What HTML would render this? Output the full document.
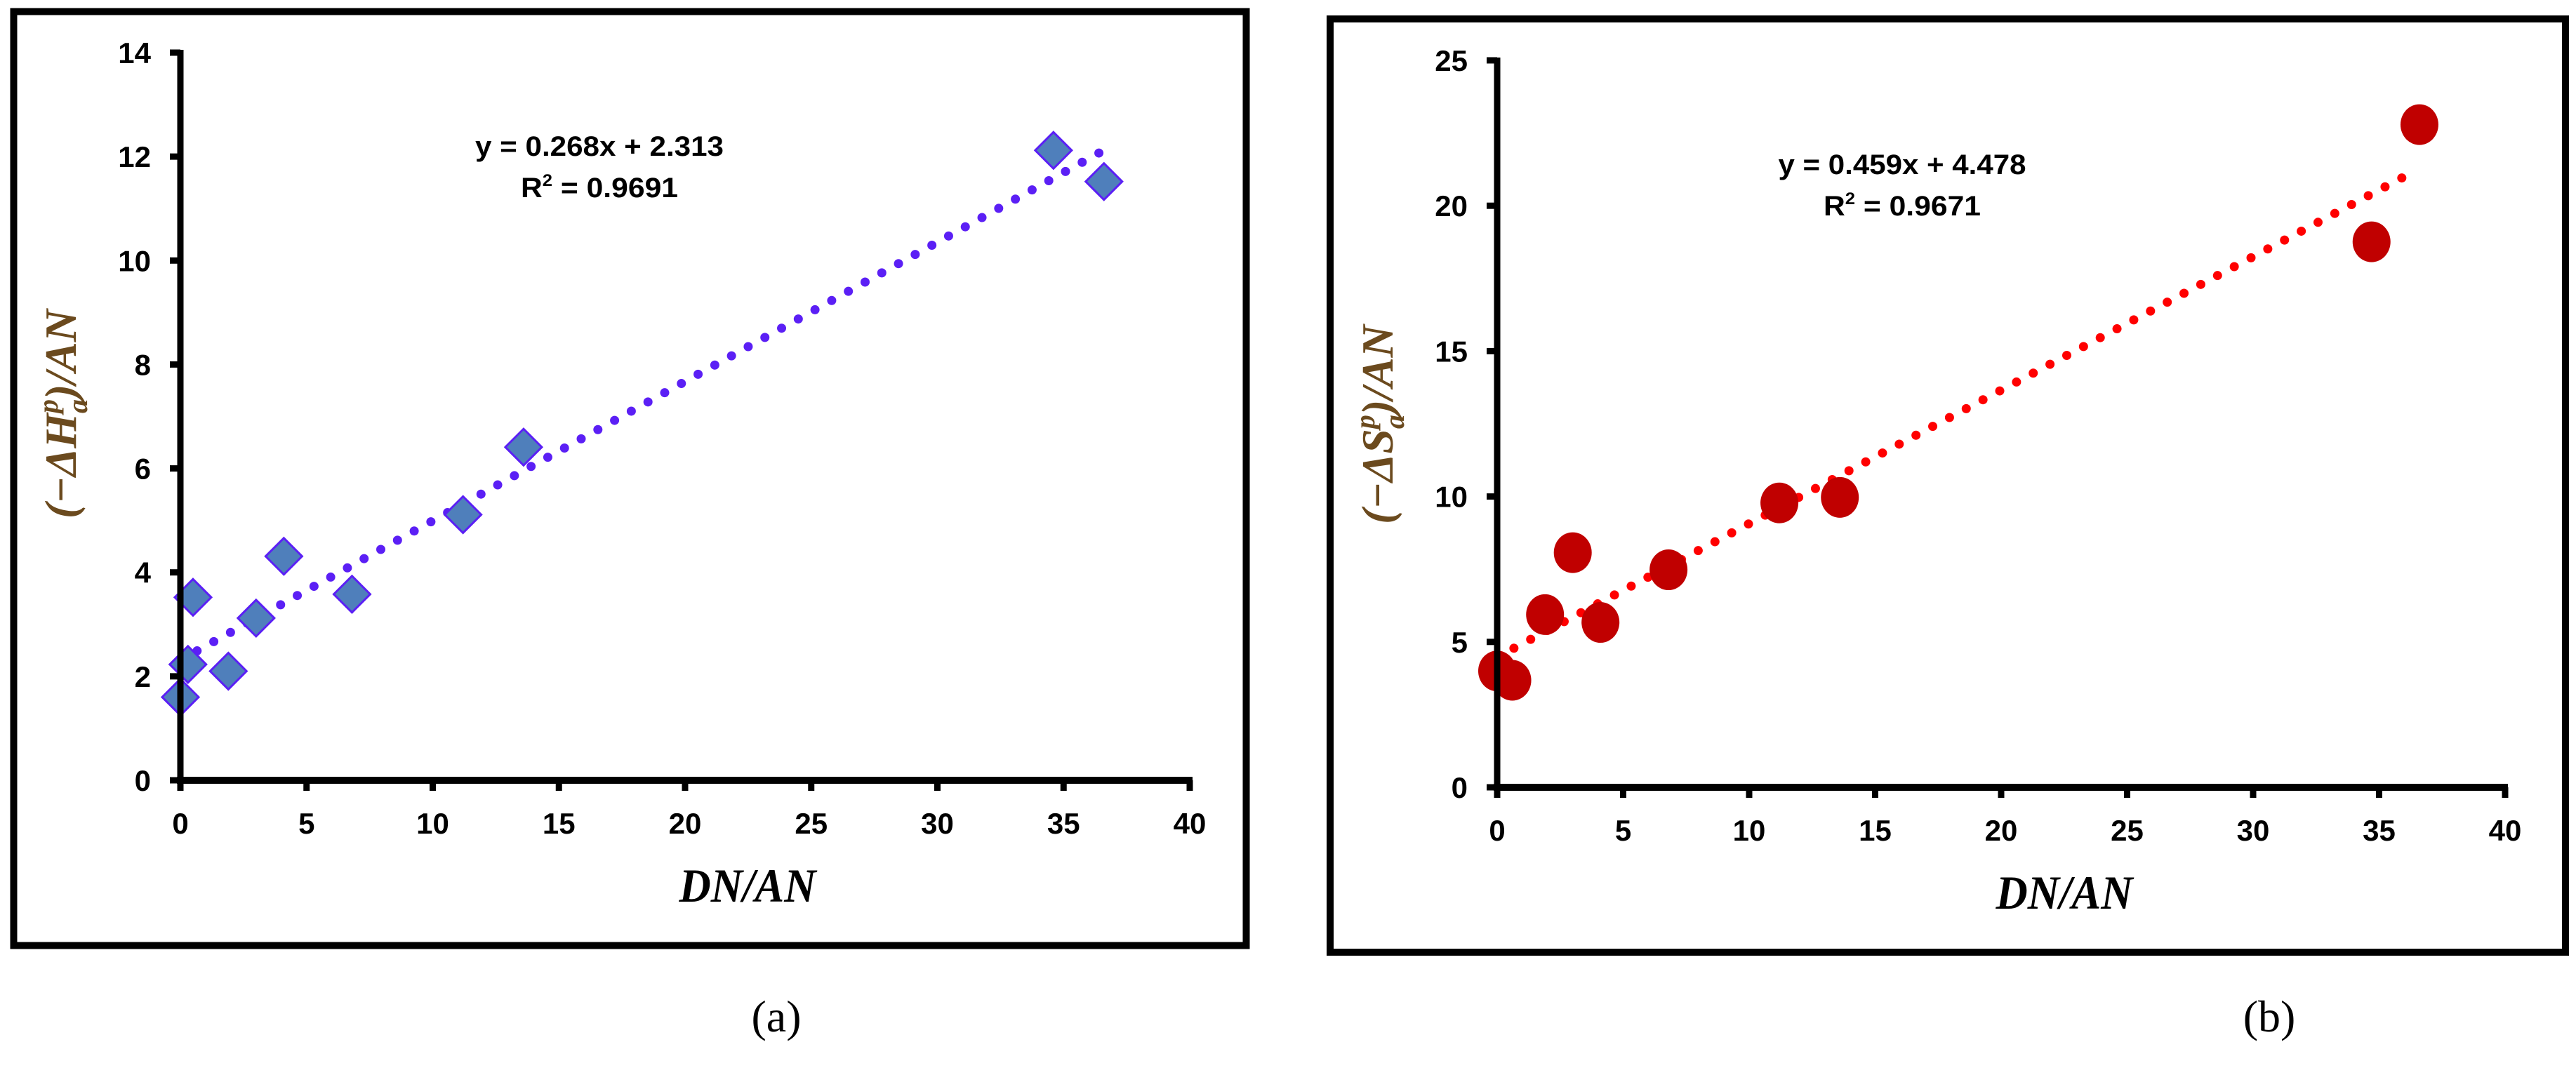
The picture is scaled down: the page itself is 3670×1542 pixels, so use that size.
<!DOCTYPE html>
<html><head><meta charset="utf-8"><style>
html,body{margin:0;padding:0;background:#fff}
svg{display:block}
</style></head><body>
<svg id="fig" width="3670" height="1542" viewBox="0 0 3670 1542" xmlns="http://www.w3.org/2000/svg">
<rect x="0" y="0" width="3670" height="1542" fill="#fff"/>
<rect x="19.5" y="16.5" width="1756" height="1331" fill="none" stroke="#000" stroke-width="10"/>
<rect x="1895" y="27" width="1760" height="1330" fill="none" stroke="#000" stroke-width="10"/>
<g id="pa"></g>
<g id="pb"></g>
<text x="854" y="222" font-family="Liberation Sans, sans-serif" font-weight="bold" font-size="40" text-anchor="middle" textLength="354" lengthAdjust="spacingAndGlyphs">y = 0.268x + 2.313</text>
<text x="854" y="281" font-family="Liberation Sans, sans-serif" font-weight="bold" font-size="40" text-anchor="middle" textLength="224" lengthAdjust="spacingAndGlyphs">R<tspan font-size="24" dy="-16">2</tspan><tspan dy="16"> = 0.9691</tspan></text>
<text x="2710" y="248" font-family="Liberation Sans, sans-serif" font-weight="bold" font-size="40" text-anchor="middle" textLength="353" lengthAdjust="spacingAndGlyphs">y = 0.459x + 4.478</text>
<text x="2710" y="307" font-family="Liberation Sans, sans-serif" font-weight="bold" font-size="40" text-anchor="middle" textLength="224" lengthAdjust="spacingAndGlyphs">R<tspan font-size="24" dy="-16">2</tspan><tspan dy="16"> = 0.9671</tspan></text>
<text x="1065" y="1285" font-family="Liberation Serif, serif" font-weight="bold" font-style="italic" font-size="68" text-anchor="middle" textLength="195" lengthAdjust="spacingAndGlyphs">DN/AN</text>
<text x="2941" y="1295" font-family="Liberation Serif, serif" font-weight="bold" font-style="italic" font-size="68" text-anchor="middle" textLength="195" lengthAdjust="spacingAndGlyphs">DN/AN</text>
<text transform="translate(108,590) rotate(-90)" font-family="Liberation Serif, serif" font-weight="bold" font-style="italic" font-size="64" fill="#6b4a1e" text-anchor="middle">(−Δ<tspan>H</tspan><tspan font-size="40" dy="16">a</tspan><tspan font-size="40" dx="-20" dy="-42">p</tspan><tspan dy="26">)/AN</tspan></text>
<text transform="translate(1984,605) rotate(-90)" font-family="Liberation Serif, serif" font-weight="bold" font-style="italic" font-size="64" fill="#6b4a1e" text-anchor="middle">(−Δ<tspan>S</tspan><tspan font-size="40" dy="16">a</tspan><tspan font-size="40" dx="-20" dy="-42">p</tspan><tspan dy="26">)/AN</tspan></text>
<text x="1106" y="1470" font-family="Liberation Serif, serif" font-size="64" text-anchor="middle">(a)</text>
<text x="3233" y="1470" font-family="Liberation Serif, serif" font-size="64" text-anchor="middle">(b)</text>
</svg>
<script>
const xTicks = [0,5,10,15,20,25,30,35,40];
const yTicksA = [0,2,4,6,8,10,12,14];
const yTicksB = [0,5,10,15,20,25];
const xA = [0,0.3,0.5,1.9,3.0,4.1,6.8,11.2,13.6,34.6,36.6];
const yA = [1.6,2.23,3.52,2.10,3.12,4.31,3.58,5.11,6.41,12.12,11.52];
const xB = [0,0.6,1.9,3.0,4.1,6.8,11.2,13.6,34.7,36.6];
const yB = [4.0,3.68,5.94,8.07,5.67,7.48,9.78,9.97,18.76,22.79];
const slopeA = 0.268, interceptA = 2.313, trendEndA = 36.4;
const slopeB = 0.459, interceptB = 4.478, trendEndB = 35.9;

const NS='http://www.w3.org/2000/svg';
function mk(tag, attrs, parent){const e=document.createElementNS(NS,tag);for(const k in attrs)e.setAttribute(k,attrs[k]);parent.appendChild(e);return e;}

function drawPanel(g, cfg){
  const sx=v=>cfg.x0+(v-0)*(cfg.x40-cfg.x0)/40;
  const sy=v=>cfg.y0-(v/cfg.ymax)*(cfg.y0-cfg.ytop);
  const tg=mk('g',{},g);
  
  
  const px0=sx(0),py0=sy(cfg.b),px1=sx(cfg.tEnd),py1=sy(cfg.m*cfg.tEnd+cfg.b);
  const len=Math.hypot(px1-px0,py1-py0);const n=Math.round(len/cfg.gap);
  for(let i=0;i<=n;i++){const t=i/n;const c=mk('circle',{cx:px0+(px1-px0)*t,cy:py0+(py1-py0)*t,r:6.5,fill:cfg.tcolor},tg);
    
    }
  cfg.xs.forEach((xv,i)=>{const cx=sx(xv),cy=sy(cfg.ys[i]);let m;
    if(cfg.marker==='diamond'){m=mk('polygon',{points:`${cx},${cy-26} ${cx+26},${cy} ${cx},${cy+26} ${cx-26},${cy}`,fill:'#4f7fbb',stroke:'#5b1ff5','stroke-width':3},g);}
    else{m=mk('ellipse',{cx:cx,cy:cy,rx:27,ry:29,fill:'#c00000'},g);}
    
    
  });
  const ax=mk('line',{x1:cfg.x0,y1:cfg.ytop-4,x2:cfg.x0,y2:cfg.y0+5,stroke:'#000','stroke-width':9},g);
  
  
  const ay=mk('line',{x1:cfg.x0-5,y1:cfg.y0,x2:cfg.x40+4,y2:cfg.y0,stroke:'#000','stroke-width':10},g);
  
  
  xTicks.forEach(v=>{const x=sx(v);mk('line',{x1:x,y1:cfg.y0,x2:x,y2:cfg.y0+15,stroke:'#000','stroke-width':9},g);
    const t=mk('text',{x:x,y:cfg.y0+76,'font-family':'Liberation Sans, sans-serif','font-weight':'bold','font-size':42,'text-anchor':'middle'},g);t.textContent=v;
    
    });
  cfg.yt.forEach(v=>{const y=sy(v);mk('line',{x1:cfg.x0-15,y1:y,x2:cfg.x0,y2:y,stroke:'#000','stroke-width':9},g);
    const t=mk('text',{x:cfg.x0-42,y:y+15,'font-family':'Liberation Sans, sans-serif','font-weight':'bold','font-size':42,'text-anchor':'end'},g);t.textContent=v;
    
    });
}
drawPanel(document.getElementById('pa'),{x0:257,x40:1695,y0:1112,ytop:75,ymax:14,yt:yTicksA,xs:xA,ys:yA,m:slopeA,b:interceptA,tEnd:trendEndA,tcolor:'#5b1ff5',gap:27,marker:'diamond'});
drawPanel(document.getElementById('pb'),{x0:2133,x40:3569,y0:1122,ytop:86,ymax:25,yt:yTicksB,xs:xB,ys:yB,m:slopeB,b:interceptB,tEnd:trendEndB,tcolor:'#ff0000',gap:27,marker:'circle'});
</script>
</body></html>
